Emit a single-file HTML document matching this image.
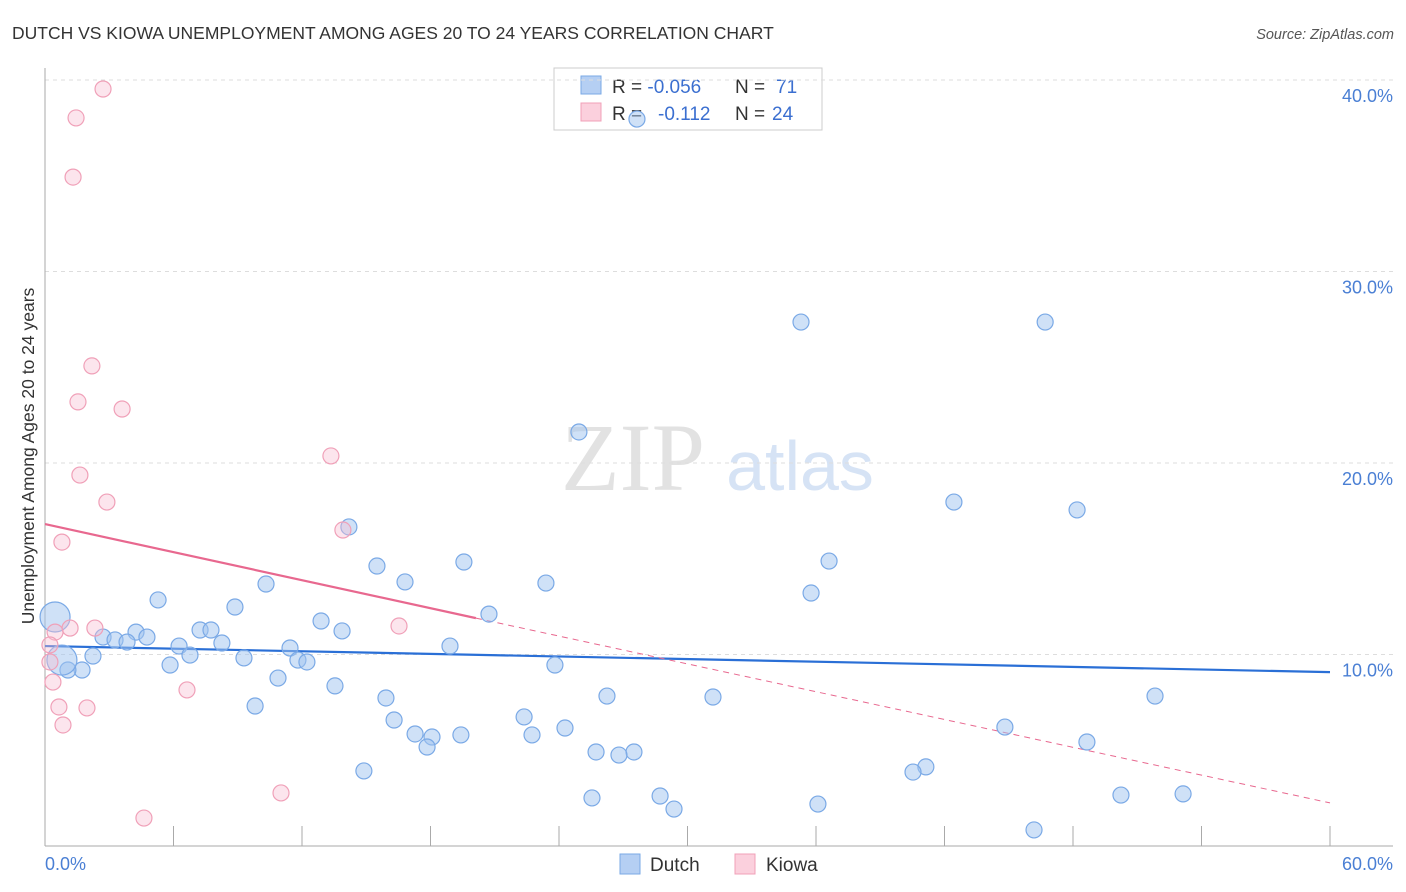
<!DOCTYPE html>
<html><head><meta charset="utf-8"><style>
body{margin:0;background:#fff;font-family:"Liberation Sans",sans-serif;}
svg{display:block}
</style></head><body>
<svg width="1406" height="892" viewBox="0 0 1406 892">
<text x="12" y="39" font-size="17.5" fill="#333">DUTCH VS KIOWA UNEMPLOYMENT AMONG AGES 20 TO 24 YEARS CORRELATION CHART</text>
<text x="1394" y="39" font-size="14.5" fill="#555" font-style="italic" text-anchor="end">Source: ZipAtlas.com</text>
<g>
<text x="633" y="490" font-size="96" fill="#e2e2e2" font-family="Liberation Serif,serif" text-anchor="middle">ZIP</text>
<text x="800" y="490" font-size="70" fill="#d6e3f5" text-anchor="middle">atlas</text>
</g>
<g>
<rect x="554" y="68" width="268" height="62" fill="#fff" stroke="#ccc"/>
<rect x="581" y="76" width="20" height="18" fill="#b5cff3" stroke="#7aa9e6"/>
<rect x="581" y="103" width="20" height="18" fill="#fbd0dd" stroke="#f0a0b8"/>
<text x="612" y="93" font-size="19" fill="#333">R = <tspan fill="#3b6fd0">-0.056</tspan><tspan x="735">N = </tspan><tspan fill="#3b6fd0" x="776">71</tspan></text>
<text x="612" y="120" font-size="19" fill="#333">R = <tspan fill="#3b6fd0" x="658">-0.112</tspan><tspan x="735">N = </tspan><tspan fill="#3b6fd0" x="772">24</tspan></text>
</g>
<g id="grid"></g>
<g id="axes"></g>
<g id="lines"></g>
<g id="pts"></g>
<text transform="translate(34,456) rotate(-90)" font-size="17.5" fill="#333" text-anchor="middle">Unemployment Among Ages 20 to 24 years</text>
<g>
<rect x="620" y="854" width="20" height="20" fill="#b5cff3" stroke="#7aa9e6"/>
<text x="650" y="871" font-size="19" fill="#333">Dutch</text>
<rect x="735" y="854" width="20" height="20" fill="#fbd0dd" stroke="#f0a0b8"/>
<text x="766" y="871" font-size="19" fill="#333">Kiowa</text>
</g>
</svg>
<script>
const yTicks=[10,20,30,40];
const yTickLabels=["10.0%","20.0%","30.0%","40.0%"];
const xTickLabels=["0.0%","60.0%"];
const dutchX=[27.64,35.3,46.7,24.93,42.44,48.19,14.19,36.61,19.56,15.5,16.81,23.39,10.32,35.77,5.28,8.87,20.73,12.89,13.87,7.24,7.75,4.25,2.71,3.27,4.76,3.83,8.26,6.26,18.91,11.44,2.24,6.77,9.29,11.81,12.23,5.84,23.81,1.73,1.07,10.88,13.54,26.24,31.19,51.83,15.92,9.81,22.37,16.3,24.28,44.82,17.28,19.42,22.74,18.07,17.84,48.65,25.73,27.5,26.8,41.13,40.53,14.89,28.72,50.24,53.14,25.54,36.09,29.37,46.18,0.47,0.79];
const dutchY=[37.96,27.36,27.36,21.62,17.96,17.55,16.66,14.88,14.83,14.62,13.79,13.73,13.68,13.21,12.85,12.48,12.11,11.75,11.23,11.28,11.28,11.17,10.91,10.76,10.91,10.65,10.6,10.44,10.44,10.34,9.92,9.97,9.82,9.71,9.61,9.45,9.45,9.19,9.19,8.77,8.36,7.83,7.78,7.83,7.73,7.31,6.74,6.58,6.16,6.21,5.85,5.8,5.8,5.69,5.17,5.43,4.91,4.91,4.75,4.13,3.86,3.92,2.61,2.66,2.72,2.51,2.19,1.93,0.84,11.96,9.71];
const dutchR=[8,8,8,8,8,8,8,8,8,8,8,8,8,8,8,8,8,8,8,8,8,8,8,8,8,8,8,8,8,8,8,8,8,8,8,8,8,8,8,8,8,8,8,8,8,8,8,8,8,8,8,8,8,8,8,8,8,8,8,8,8,8,8,8,8,8,8,8,8,15,15];
const kiowaX=[2.71,1.45,1.31,2.19,1.54,3.6,1.63,13.35,2.89,0.79,13.91,1.17,2.33,0.47,16.53,0.23,0.23,6.63,0.37,0.65,1.96,0.84,11.02,4.62];
const kiowaY=[39.53,38.02,34.93,25.07,23.19,22.82,19.37,20.37,17.96,15.87,16.5,11.38,11.38,11.17,11.49,10.5,9.61,8.15,8.56,7.26,7.21,6.32,2.77,1.46];
const dutchTrend=[[0,10.44],[60,9.08]];
const kiowaTrend=[[0,16.81],[20.12,11.9],[60,2.25]];
const NS="http://www.w3.org/2000/svg";
const X=v=>45+v*(1285/60), Y=v=>846-v*19.15;
function mk(p,t,a){const e=document.createElementNS(NS,t);for(const k in a)e.setAttribute(k,a[k]);p.appendChild(e);return e;}
const g=document.getElementById('grid'),ax=document.getElementById('axes'),ln=document.getElementById('lines'),pt=document.getElementById('pts');
yTicks.forEach((t,i)=>{
 const l=mk(g,'line',{x1:45,x2:1393,y1:Y(t),y2:Y(t),stroke:'#ddd','stroke-dasharray':'4,4'});
 
 
 const tx=mk(ax,'text',{x:1393,y:Y(t)+22,'font-size':18,fill:'#4a7fd4','text-anchor':'end'});tx.textContent=yTickLabels[i];
 
 
});
mk(ax,'line',{x1:45,x2:45,y1:68,y2:846,stroke:'#aaa'});
mk(ax,'line',{x1:45,x2:1393,y1:846,y2:846,stroke:'#aaa'});
for(let i=1;i<=10;i++){const t=mk(ax,'line',{x1:X(i*6),x2:X(i*6),y1:826,y2:846,stroke:'#aaa'});
 
 }
[[0,45,'start'],[1,1393,'end']].forEach(([i,x,a])=>{const t=mk(ax,'text',{x:x,y:870,'font-size':18,fill:'#4a7fd4','text-anchor':a});t.textContent=xTickLabels[i];
 
 });
dutchX.forEach((v,i)=>{const c=mk(pt,'circle',{cx:X(v),cy:Y(dutchY[i]),r:dutchR[i],fill:'rgba(160,195,240,0.5)',stroke:'#7aa9e6','stroke-width':1.2});
 
 });
kiowaX.forEach((v,i)=>{const c=mk(pt,'circle',{cx:X(v),cy:Y(kiowaY[i]),r:8,fill:'rgba(248,190,210,0.4)',stroke:'#f0a0b8','stroke-width':1.2});
 
 });
const d=mk(ln,'line',{x1:X(dutchTrend[0][0]),y1:Y(dutchTrend[0][1]),x2:X(dutchTrend[1][0]),y2:Y(dutchTrend[1][1]),stroke:'#2a6fd6','stroke-width':2.2});


const k1=mk(ln,'line',{x1:X(kiowaTrend[0][0]),y1:Y(kiowaTrend[0][1]),x2:X(kiowaTrend[1][0]),y2:Y(kiowaTrend[1][1]),stroke:'#e8688f','stroke-width':2.2});


const k2=mk(ln,'line',{x1:X(kiowaTrend[1][0]),y1:Y(kiowaTrend[1][1]),x2:X(kiowaTrend[2][0]),y2:Y(kiowaTrend[2][1]),stroke:'#e8688f','stroke-width':1,'stroke-dasharray':'6,5'});


</script>
</body></html>
